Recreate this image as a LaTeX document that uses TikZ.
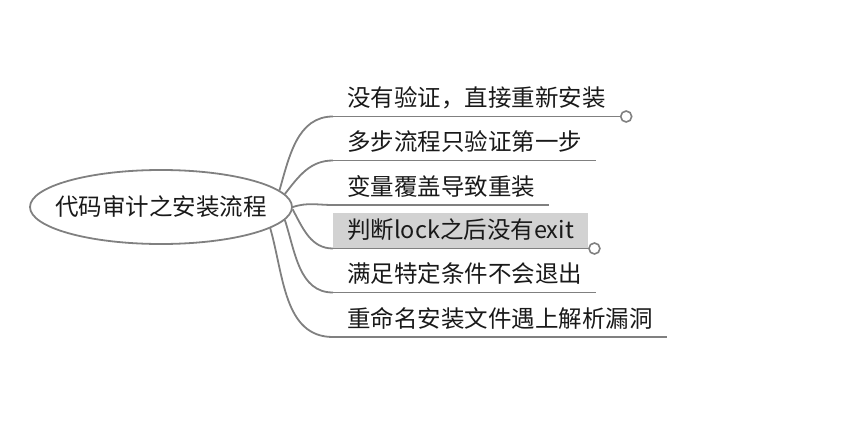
\documentclass[tikz,border=0pt]{standalone}
\usepackage{fontspec}
\newfontfamily\cjk{Noto Sans CJK SC}
\usetikzlibrary{shapes.geometric}

\tikzset{
    branch/.style={draw=gray, line width=1.8pt},
    topic/.style={anchor=south west, inner xsep=14pt, inner ysep=0pt,
                  minimum height=35pt, text height=20pt, text depth=4pt,
                  font=\cjk\fontsize{23.5}{28}\selectfont, text=black!90},
    knob/.style={circle, draw=gray, fill=white, line width=1.6pt,
                 minimum size=11pt, inner sep=0pt, anchor=west}
}

\begin{document}
\begin{tikzpicture}[x=1pt, y=-1pt]

            \useasboundingbox (0,0) rectangle (864,420);

            \node[ellipse, draw=gray, line width=1.8pt, minimum width=262pt,
                  minimum height=74pt, inner sep=0pt,
                  label={[font=\cjk\fontsize{23.5}{28}\selectfont, text=black!90]center:代码审计之安装流程}]
                (root) at (161,207) {};

            \node[topic] (b1) at (333,116.5) {没有验证，直接重新安装};
            \node[topic] (b2) at (333,160.5) {多步流程只验证第一步};
            \node[topic] (b3) at (333,205) {变量覆盖导致重装};
            \node[topic, fill=gray!35] (b4) at (333,248.5) {判断lock之后没有exit};
            \node[topic] (b5) at (333,292.5) {满足特定条件不会退出};
            \node[topic] (b6) at (333,337) {重命名安装文件遇上解析漏洞};

            \foreach \i/\a/\o in {1/8/74, 2/6/52, 3/0/18, 4/-1/-62, 5/-6/-72, 6/-11/-74} {
                    \draw[branch] (root.\a) to[out=\o, in=180] (b\i.south west);
                    \draw[branch] (b\i.south west) -- (b\i.south east);
                }

            \node[knob] (k1) at (b1.south east) {};
            \node[knob] (k4) at (b4.south east) {};

        \end{tikzpicture}
\end{document}
